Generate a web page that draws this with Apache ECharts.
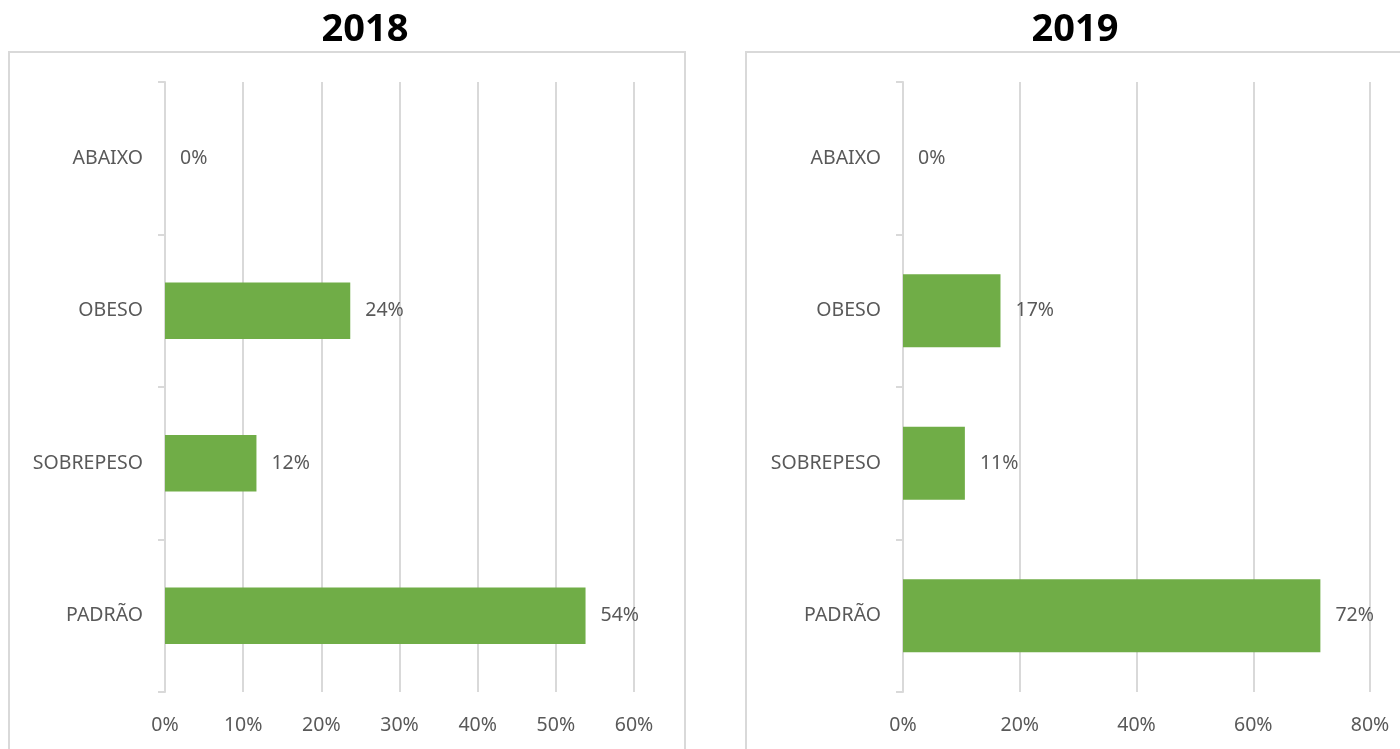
<!DOCTYPE html>
<html>
<head>
<meta charset="utf-8">
<script src="https://cdn.jsdelivr.net/npm/echarts@6/dist/echarts.min.js"></script>
<style>
  html, body { margin: 0; padding: 0; background: #fff; }
  #main { width: 1400px; height: 749px; }
</style>
</head>
<body>
<div id="main"></div>
<script>
// categorias (de cima para baixo)
var categorias = ['ABAIXO', 'OBESO', 'SOBREPESO', 'PADRÃO'];
var valores2018 = [0, 0.237, 0.117, 0.538];
var valores2019 = [0, 0.167, 0.106, 0.715];
var titulos = ['2018', '2019'];

var myChart = echarts.init(document.getElementById('main'));

var cinza = '#d9d9d9';
var texto = '#595959';
var fonte = 'Noto Sans';

function pct(v) {
    return Math.round(v * 100) + '%';
}

function eixoX(idx, max, interval) {
    return {
        gridIndex: idx,
        type: 'value',
        min: 0,
        max: max,
        interval: interval,
        axisLine: { show: false },
        axisTick: { show: false },
        splitLine: { lineStyle: { color: cinza, width: 2 } },
        axisLabel: {
            color: texto, fontSize: 19.5, fontFamily: fonte, margin: 23,
            formatter: pct
        }
    };
}

function eixoY(idx) {
    return {
        gridIndex: idx,
        type: 'category',
        inverse: true,
        data: categorias,
        axisLine: { lineStyle: { color: cinza, width: 2 } },
        axisTick: { show: true, length: 7, lineStyle: { color: cinza, width: 2 } },
        axisLabel: { color: texto, fontSize: 19.5, fontFamily: fonte, margin: 22 }
    };
}

function serie(idx, dados, largura) {
    return {
        type: 'bar',
        xAxisIndex: idx,
        yAxisIndex: idx,
        data: dados,
        barWidth: largura,
        itemStyle: { color: '#70ad47' },
        label: {
            show: true,
            position: 'right',
            distance: 15,
            color: texto,
            fontSize: 19.5,
            fontFamily: fonte,
            formatter: function (p) { return pct(p.value); }
        }
    };
}

option = {
    animation: false,
    backgroundColor: '#fff',
    title: [
        { text: titulos[0], left: 360, top: 6, textAlign: 'center',
          textStyle: { fontSize: 38, fontWeight: 'bold', color: '#000', fontFamily: fonte } },
        { text: titulos[1], left: 1070, top: 6, textAlign: 'center',
          textStyle: { fontSize: 38, fontWeight: 'bold', color: '#000', fontFamily: fonte } }
    ],
    graphic: [
        { type: 'rect', shape: { x: 9, y: 52, width: 676, height: 720 }, z: -1,
          style: { fill: 'none', stroke: cinza, lineWidth: 2 } },
        { type: 'rect', shape: { x: 746, y: 52, width: 700, height: 720 }, z: -1,
          style: { fill: 'none', stroke: cinza, lineWidth: 2 } }
    ],
    grid: [
        { left: 165, right: 766, top: 82, bottom: 57 },
        { left: 903, right: 30, top: 82, bottom: 57 }
    ],
    xAxis: [eixoX(0, 0.6, 0.1), eixoX(1, 0.8, 0.2)],
    yAxis: [eixoY(0), eixoY(1)],
    series: [serie(0, valores2018, '37%'), serie(1, valores2019, '48%')]
};

myChart.setOption(option);
</script>
</body>
</html>
